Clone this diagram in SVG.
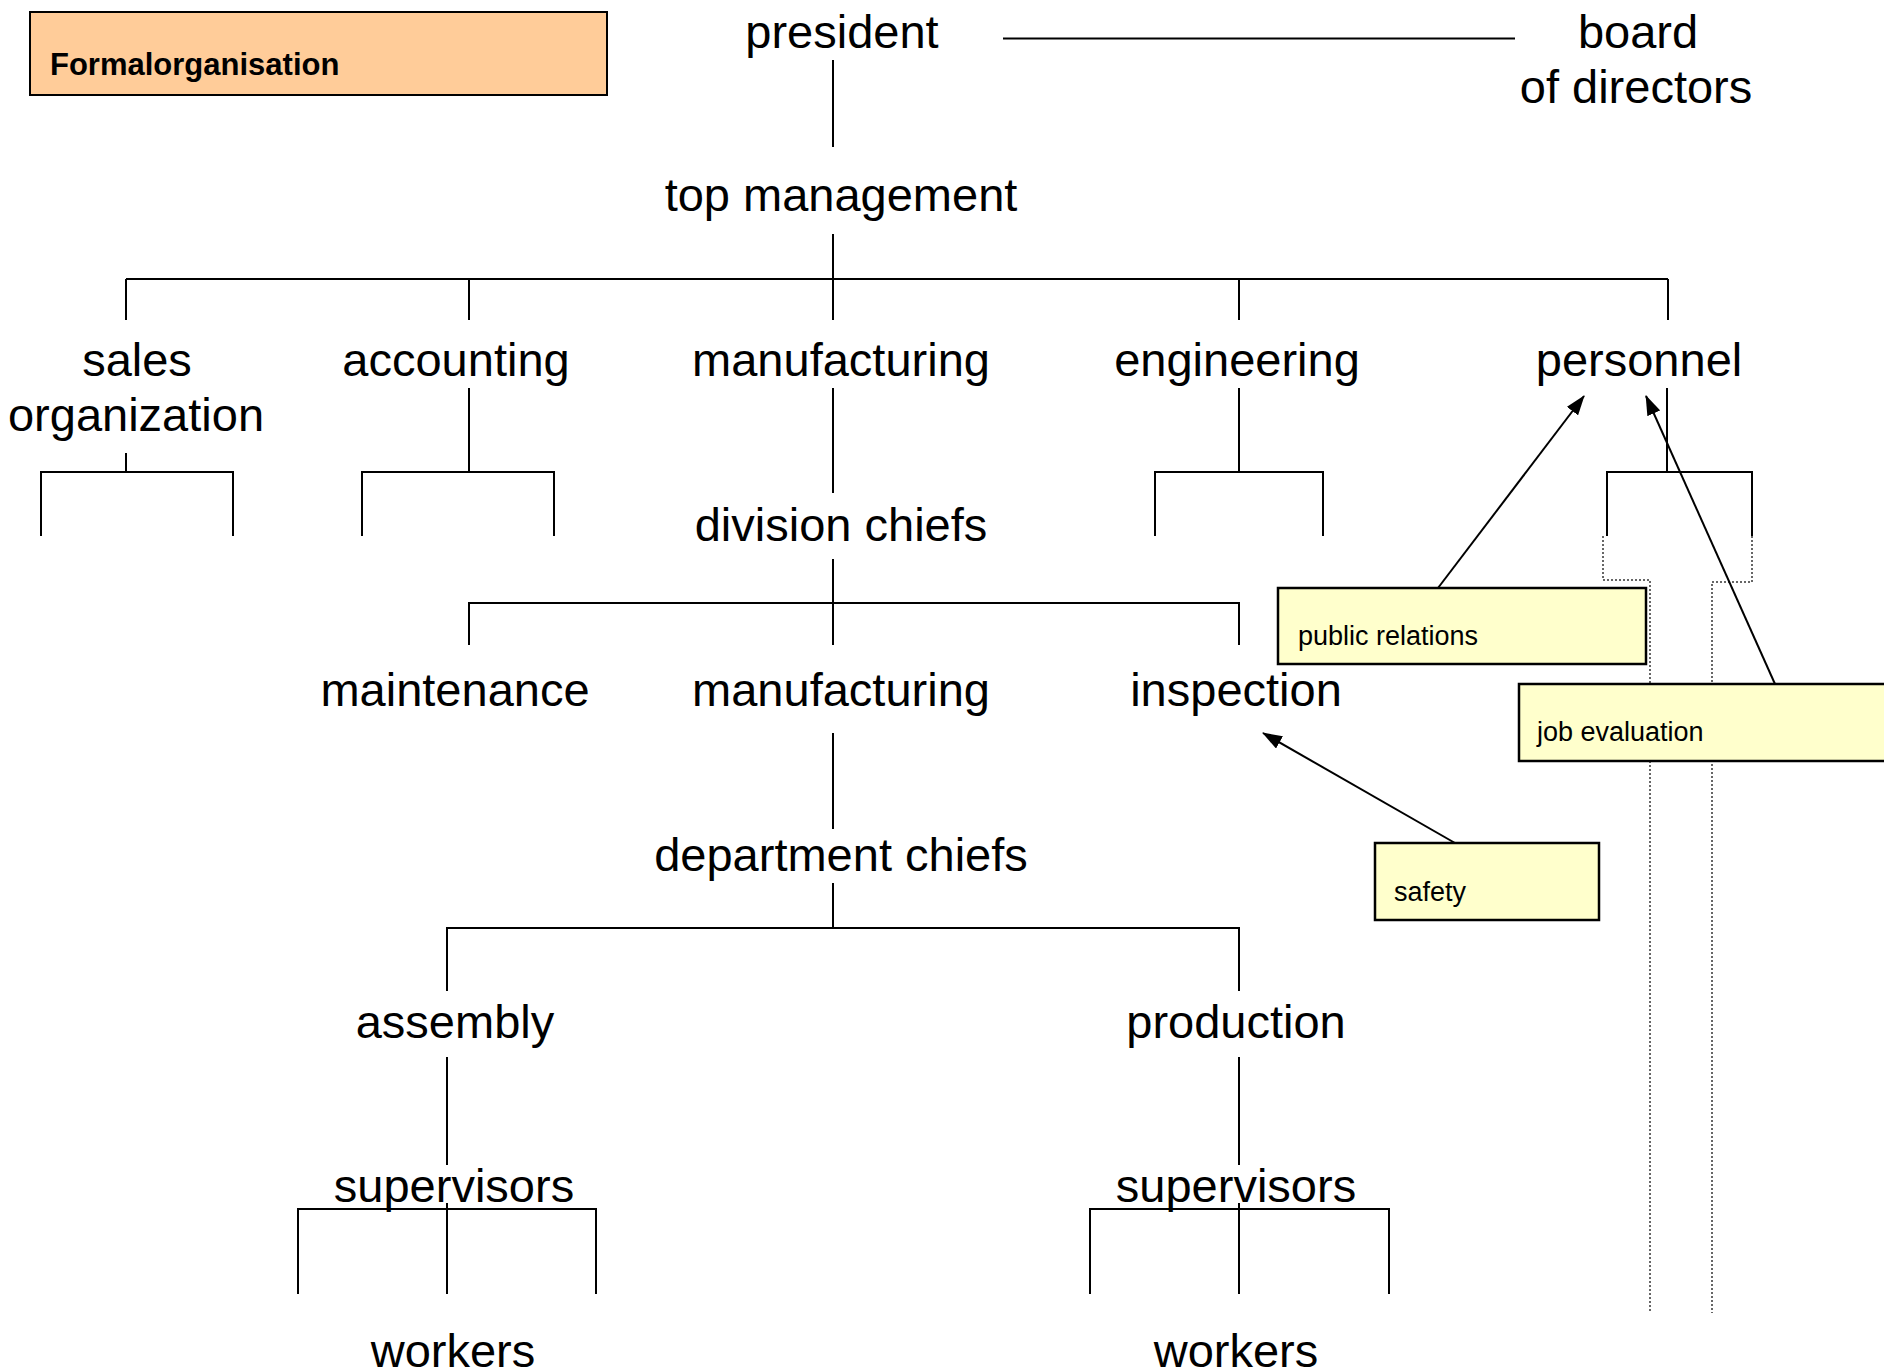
<svg xmlns="http://www.w3.org/2000/svg" width="1884" height="1372" viewBox="0 0 1884 1372">
  <style>
    .lbl { font-family: "Liberation Sans", Arial, sans-serif; font-size: 47px; fill: #000; text-anchor: middle; }
    .note { font-family: "Liberation Sans", Arial, sans-serif; font-size: 27px; fill: #000; }
    .title { font-family: "Liberation Sans", Arial, sans-serif; font-size: 31px; font-weight: bold; fill: #000; }
    .ln { stroke: #000; stroke-width: 2; fill: none; }
    .dot { stroke: #666; stroke-width: 2; fill: none; stroke-dasharray: 2 2; }
    .arr { stroke: #000; stroke-width: 2; fill: none; marker-end: url(#head); }
    .yel { fill: #FFFFCC; stroke: #000; stroke-width: 2.5; }
  </style>
  <defs>
    <marker id="head" viewBox="0 0 20 14" refX="19" refY="7" markerWidth="20" markerHeight="14" markerUnits="userSpaceOnUse" orient="auto">
      <path d="M0,0 L20,7 L0,14 z" fill="#000" />
    </marker>
  </defs>

  <rect width="1884" height="1372" fill="#fff" />

  <!-- title box -->
  <g id="title">
    <rect x="30" y="12" width="577" height="83" fill="#FFCC99" stroke="#000" stroke-width="2" />
    <text class="title" x="50" y="75">Formalorganisation</text>
  </g>

  <!-- hierarchy connectors -->
  <g id="connectors">
    <line class="ln" x1="1003" y1="38.5" x2="1515" y2="38.5" />
    <line class="ln" x1="833" y1="60" x2="833" y2="147" />
    <line class="ln" x1="833" y1="234" x2="833" y2="279" />
    <line class="ln" x1="126" y1="279" x2="1668" y2="279" />
    <path class="ln" d="M126,279 V320 M469,279 V320 M833,279 V320 M1239,279 V320 M1668,279 V320" />

    <!-- sales organization -->
    <path class="ln" d="M126,453 V472 M41,536 V472 H233 V536" />
    <!-- accounting -->
    <path class="ln" d="M469,388 V472 M362,536 V472 H554 V536" />
    <!-- engineering -->
    <path class="ln" d="M1239,388 V472 M1155,536 V472 H1323 V536" />
    <!-- personnel -->
    <path class="ln" d="M1667,388 V472 M1607,536 V472 H1752 V536" />
    <path class="dot" d="M1603,536 V580 H1650 V1313" />
    <path class="dot" d="M1752,536 V582 H1712 V1313" />

    <!-- manufacturing to division chiefs -->
    <line class="ln" x1="833" y1="388" x2="833" y2="493" />
    <line class="ln" x1="833" y1="559" x2="833" y2="645" />
    <path class="ln" d="M469,645 V603 H1239 V645" />

    <!-- manufacturing to department chiefs -->
    <line class="ln" x1="833" y1="733" x2="833" y2="829" />
    <line class="ln" x1="833" y1="883" x2="833" y2="928" />
    <path class="ln" d="M447,991 V928 H1239 V991" />

    <!-- assembly / production to supervisors -->
    <line class="ln" x1="447" y1="1057" x2="447" y2="1165" />
    <line class="ln" x1="1239" y1="1057" x2="1239" y2="1165" />
    <path class="ln" d="M298,1294 V1209 H596 V1294 M447,1203 V1294" />
    <path class="ln" d="M1090,1294 V1209 H1389 V1294 M1239,1203 V1294" />

    <!-- staff functions -->
    <line class="arr" x1="1438" y1="588" x2="1584" y2="396" />
    <line class="arr" x1="1775" y1="684" x2="1646" y2="396" />
    <line class="arr" x1="1455" y1="843" x2="1263" y2="733" />
  </g>

  <!-- line positions -->
  <g id="president"><text class="lbl" x="842" y="48">president</text></g>
  <g id="board"><text class="lbl" x="1638" y="48">board</text><text class="lbl" x="1636" y="103">of directors</text></g>
  <g id="top-management"><text class="lbl" x="841" y="211">top management</text></g>
  <g id="sales"><text class="lbl" x="137" y="376">sales</text><text class="lbl" x="136" y="431">organization</text></g>
  <g id="accounting"><text class="lbl" x="456" y="376">accounting</text></g>
  <g id="manufacturing-1"><text class="lbl" x="841" y="376">manufacturing</text></g>
  <g id="engineering"><text class="lbl" x="1237" y="376">engineering</text></g>
  <g id="personnel"><text class="lbl" x="1639" y="376">personnel</text></g>
  <g id="division-chiefs"><text class="lbl" x="841" y="541">division chiefs</text></g>
  <g id="maintenance"><text class="lbl" x="455" y="706">maintenance</text></g>
  <g id="manufacturing-2"><text class="lbl" x="841" y="706">manufacturing</text></g>
  <g id="inspection"><text class="lbl" x="1236" y="706">inspection</text></g>
  <g id="department-chiefs"><text class="lbl" x="841" y="871">department chiefs</text></g>
  <g id="assembly"><text class="lbl" x="455" y="1038">assembly</text></g>
  <g id="production"><text class="lbl" x="1236" y="1038">production</text></g>
  <g id="supervisors-1"><text class="lbl" x="454" y="1202">supervisors</text></g>
  <g id="supervisors-2"><text class="lbl" x="1236" y="1202">supervisors</text></g>
  <g id="workers-1"><text class="lbl" x="453" y="1367">workers</text></g>
  <g id="workers-2"><text class="lbl" x="1236" y="1367">workers</text></g>

  <!-- staff boxes -->
  <g id="public-relations">
    <rect class="yel" x="1278" y="588" width="368" height="76" />
    <text class="note" x="1298" y="645">public relations</text>
  </g>
  <g id="job-evaluation">
    <rect class="yel" x="1519" y="684" width="380" height="77" />
    <text class="note" x="1537" y="741">job evaluation</text>
  </g>
  <g id="safety">
    <rect class="yel" x="1375" y="843" width="224" height="77" />
    <text class="note" x="1394" y="901">safety</text>
  </g>
</svg>
